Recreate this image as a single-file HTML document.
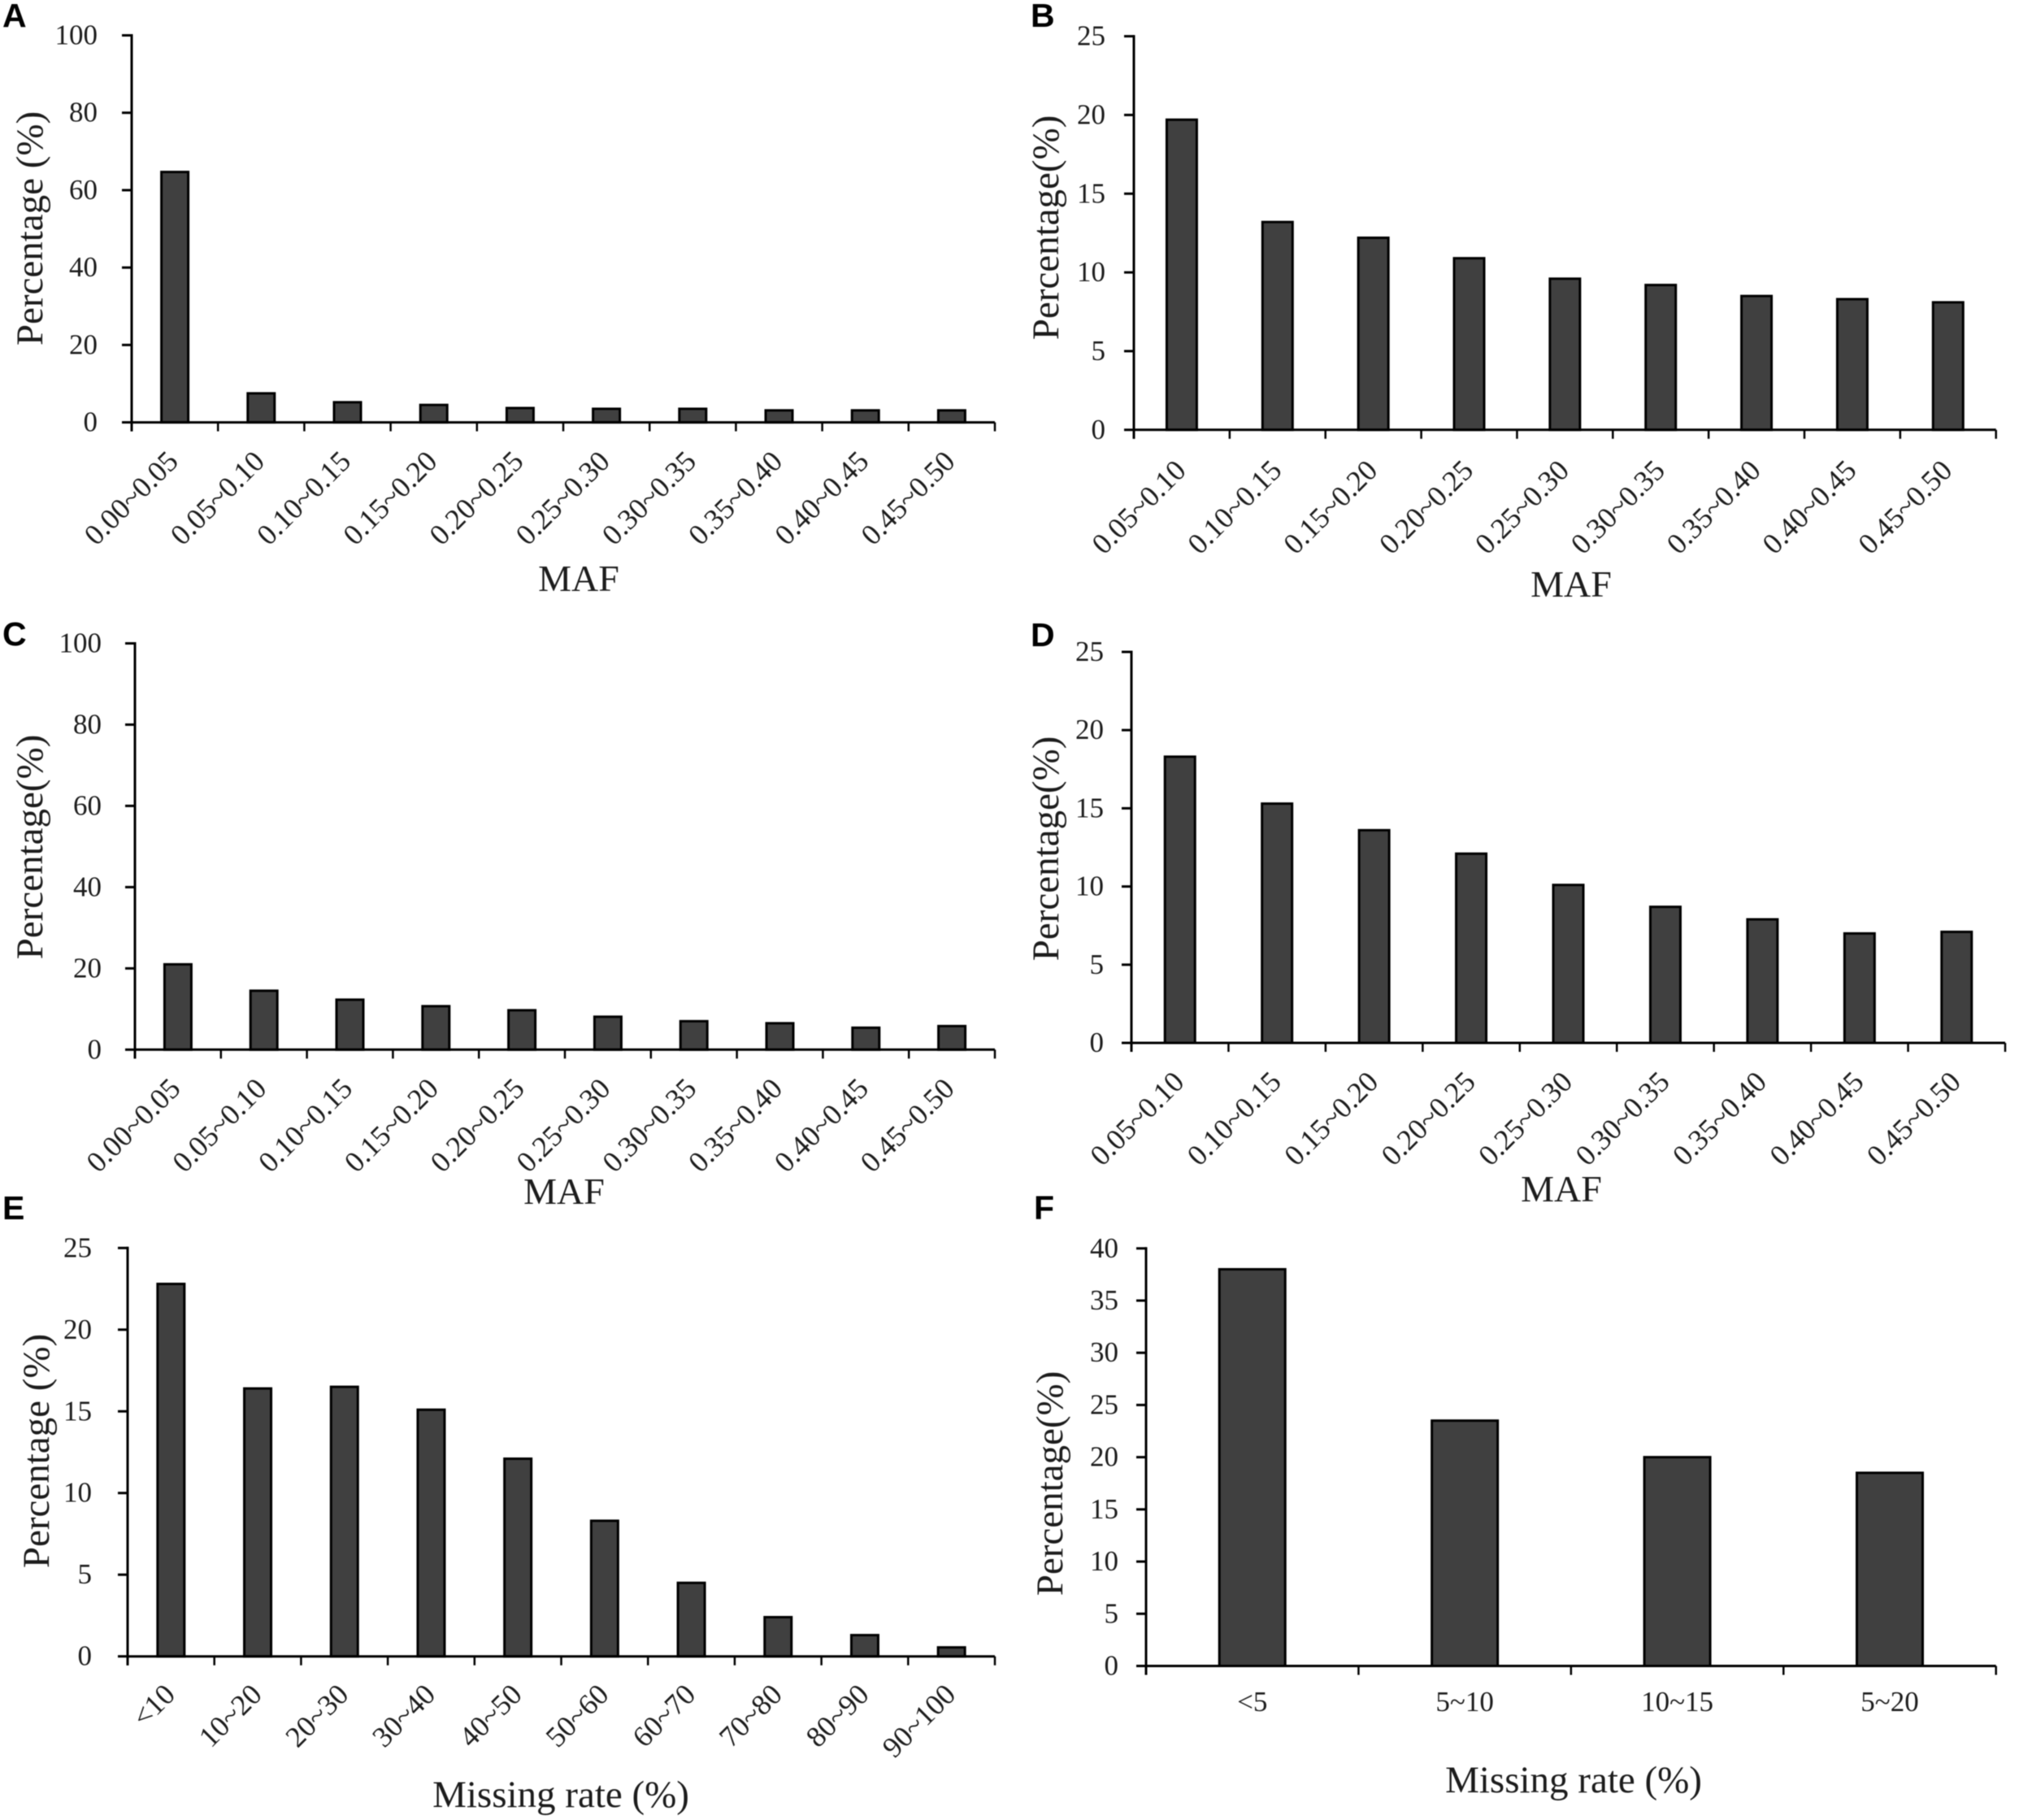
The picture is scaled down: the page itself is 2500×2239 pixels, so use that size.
<!DOCTYPE html>
<html lang="en">
<head>
<meta charset="utf-8">
<title>MAF and missing rate distributions</title>
<style>
  html, body { margin: 0; padding: 0; background: #fff; }
  svg { display: block; filter: blur(0.6px); }
  text { font-family: "Liberation Serif", "Times New Roman", serif; fill: #1c1c1c; }
  .letter { font-family: "Liberation Sans", Arial, sans-serif; font-weight: 700; font-size: 41px; fill: #000; }
  .title { font-size: 46px; }
  .title-long { font-size: 47px; }
  .ylab { font-size: 47px; }
</style>
</head>
<body>
<svg id="figure" xmlns="http://www.w3.org/2000/svg" width="2500" height="2239" viewBox="0 0 2500 2239">
  <rect x="0" y="0" width="2500" height="2239" fill="#fff"/>

  <text class="letter" x="3" y="33">A</text>
  <text class="letter" x="1268" y="33">B</text>
  <text class="letter" x="3" y="794">C</text>
  <text class="letter" x="1268" y="795">D</text>
  <text class="letter" x="3" y="1500">E</text>
  <text class="letter" x="1272" y="1500">F</text>

  <text class="ylab" text-anchor="middle" transform="translate(52 281) rotate(-90)">Percentage (%)</text>
  <text class="ylab" text-anchor="middle" transform="translate(1302 280) rotate(-90)">Percentage(%)</text>
  <text class="ylab" text-anchor="middle" transform="translate(52 1042) rotate(-90)">Percentage(%)</text>
  <text class="ylab" text-anchor="middle" transform="translate(1302 1044) rotate(-90)">Percentage(%)</text>
  <text class="ylab" text-anchor="middle" transform="translate(60 1785) rotate(-90)">Percentage (%)</text>
  <text class="ylab" text-anchor="middle" transform="translate(1307 1825) rotate(-90)">Percentage(%)</text>

  <text class="title" text-anchor="middle" x="712" y="727">MAF</text>
  <text class="title" text-anchor="middle" x="1933" y="734">MAF</text>
  <text class="title" text-anchor="middle" x="694" y="1481">MAF</text>
  <text class="title" text-anchor="middle" x="1921" y="1478">MAF</text>
  <text class="title-long" text-anchor="middle" x="690" y="2223">Missing rate (%)</text>
  <text class="title-long" text-anchor="middle" x="1936" y="2205">Missing rate (%)</text>
</svg>

<script>
const categoriesA = ["0.00~0.05","0.05~0.10","0.10~0.15","0.15~0.20","0.20~0.25","0.25~0.30","0.30~0.35","0.35~0.40","0.40~0.45","0.45~0.50"];
const valuesA = [64.7, 7.5, 5.2, 4.5, 3.7, 3.5, 3.5, 3.1, 3.1, 3.1];
const ticksA = [0, 20, 40, 60, 80, 100];

const categoriesB = ["0.05~0.10","0.10~0.15","0.15~0.20","0.20~0.25","0.25~0.30","0.30~0.35","0.35~0.40","0.40~0.45","0.45~0.50"];
const valuesB = [19.7, 13.2, 12.2, 10.9, 9.6, 9.2, 8.5, 8.3, 8.1];
const ticksB = [0, 5, 10, 15, 20, 25];

const categoriesC = ["0.00~0.05","0.05~0.10","0.10~0.15","0.15~0.20","0.20~0.25","0.25~0.30","0.30~0.35","0.35~0.40","0.40~0.45","0.45~0.50"];
const valuesC = [21, 14.5, 12.3, 10.7, 9.7, 8.1, 7, 6.5, 5.4, 5.8];
const ticksC = [0, 20, 40, 60, 80, 100];

const categoriesD = ["0.05~0.10","0.10~0.15","0.15~0.20","0.20~0.25","0.25~0.30","0.30~0.35","0.35~0.40","0.40~0.45","0.45~0.50"];
const valuesD = [18.3, 15.3, 13.6, 12.1, 10.1, 8.7, 7.9, 7, 7.1];
const ticksD = [0, 5, 10, 15, 20, 25];

const categoriesE = ["<10","10~20","20~30","30~40","40~50","50~60","60~70","70~80","80~90","90~100"];
const valuesE = [22.8, 16.4, 16.5, 15.1, 12.1, 8.3, 4.5, 2.4, 1.3, 0.55];
const ticksE = [0, 5, 10, 15, 20, 25];

const categoriesF = ["<5","5~10","10~15","5~20"];
const valuesF = [38, 23.5, 20, 18.5];
const ticksF = [0, 5, 10, 15, 20, 25, 30, 35, 40];

const NS = "http://www.w3.org/2000/svg";
const figure = document.getElementById("figure");

function svgEl(tag, parent) {
  const el = document.createElementNS(NS, tag);
  parent.appendChild(el);
  return el;
}

function drawPanel(id, categories, values, ticks, box) {
  const g = svgEl("g", figure);
  
  

  const yMax = ticks[ticks.length - 1];
  const yScale = v => box.base - (v / yMax) * (box.base - box.top);
  const band = (box.right - box.left) / categories.length;
  const xScale = i => box.left + (i + 0.5) * band;

  // bars
  values.forEach((v, i) => {
    const bar = svgEl("rect", g);
    
    
    bar.setAttribute("x", xScale(i) - (box.barWidth - 3) / 2);
    bar.setAttribute("y", yScale(v));
    bar.setAttribute("width", box.barWidth - 3);
    bar.setAttribute("height", box.base - yScale(v));
    bar.setAttribute("fill", "#404040");
    bar.setAttribute("stroke", "#000");
    bar.setAttribute("stroke-width", "3");
  });

  // y axis
  const yAxis = svgEl("line", g);
  
  
  yAxis.setAttribute("x1", box.left);
  yAxis.setAttribute("x2", box.left);
  yAxis.setAttribute("y1", box.top - 1.5);
  yAxis.setAttribute("y2", box.base + 11);
  yAxis.setAttribute("stroke", "#000");
  yAxis.setAttribute("stroke-width", "3");

  ticks.forEach(t => {
    const tick = svgEl("line", g);
    
    
    tick.setAttribute("x1", box.left - 12);
    tick.setAttribute("x2", box.left);
    tick.setAttribute("y1", yScale(t));
    tick.setAttribute("y2", yScale(t));
    tick.setAttribute("stroke", "#000");
    tick.setAttribute("stroke-width", "3");

    const label = svgEl("text", g);
    
    
    label.setAttribute("x", box.left - box.labelGap);
    label.setAttribute("y", yScale(t) + 11);
    label.setAttribute("text-anchor", "end");
    label.setAttribute("font-size", "35");
    label.textContent = t;
  });

  // x axis
  const xAxis = svgEl("line", g);
  
  
  xAxis.setAttribute("x1", box.left);
  xAxis.setAttribute("x2", box.right);
  xAxis.setAttribute("y1", box.base);
  xAxis.setAttribute("y2", box.base);
  xAxis.setAttribute("stroke", "#000");
  xAxis.setAttribute("stroke-width", "3");

  for (let i = 0; i <= categories.length; i++) {
    const tx = box.left + i * band;
    const tick = svgEl("line", g);
    
    
    tick.setAttribute("x1", tx);
    tick.setAttribute("x2", tx);
    tick.setAttribute("y1", box.base);
    tick.setAttribute("y2", box.base + 11);
    tick.setAttribute("stroke", "#000");
    tick.setAttribute("stroke-width", "2.5");
  }

  categories.forEach((c, i) => {
    const label = svgEl("text", g);
    
    
    label.setAttribute("font-size", box.rotate ? "36" : "35");
    label.textContent = c;
    if (box.rotate) {
      label.setAttribute("text-anchor", "end");
      label.setAttribute("transform",
        "translate(" + (xScale(i) + box.labelDx) + " " + (box.base + box.labelDy) + ") rotate(-45)");
    } else {
      label.setAttribute("text-anchor", "middle");
      label.setAttribute("x", xScale(i));
      label.setAttribute("y", box.base + box.labelDy);
    }
  });
}

drawPanel("a", categoriesA, valuesA, ticksA,
  { left: 162, right: 1224, top: 43.5, base: 519.6, barWidth: 36, labelGap: 42, rotate: true, labelDx: 6, labelDy: 50 });
drawPanel("b", categoriesB, valuesB, ticksB,
  { left: 1395, right: 2455.7, top: 44.6, base: 528.8, barWidth: 40, labelGap: 35, rotate: true, labelDx: 7, labelDy: 52 });
drawPanel("c", categoriesC, valuesC, ticksC,
  { left: 166, right: 1224, top: 791.5, base: 1291.3, barWidth: 36, labelGap: 41, rotate: true, labelDx: 5, labelDy: 50 });
drawPanel("d", categoriesD, valuesD, ticksD,
  { left: 1392, right: 2467, top: 802, base: 1283, barWidth: 40, labelGap: 34, rotate: true, labelDx: 7, labelDy: 50 });
drawPanel("e", categoriesE, valuesE, ticksE,
  { left: 157, right: 1224, top: 1535.3, base: 2037.7, barWidth: 36, labelGap: 44, rotate: true, labelDx: 7, labelDy: 49 });
drawPanel("f", categoriesF, valuesF, ticksF,
  { left: 1410, right: 2455.7, top: 1535.8, base: 2049.5, barWidth: 84, labelGap: 34, rotate: false, labelDx: 0, labelDy: 55.5 });
</script>
</body>
</html>
